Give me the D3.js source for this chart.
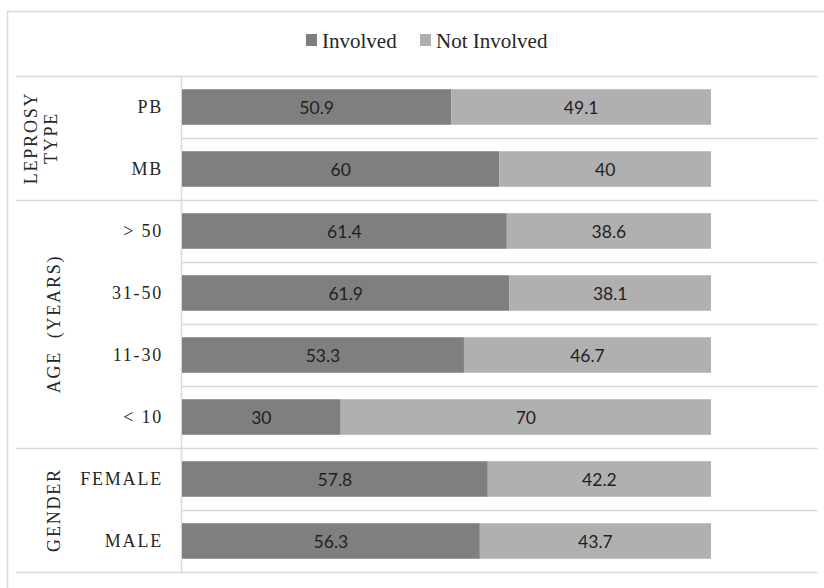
<!DOCTYPE html>
<html>
<head>
<meta charset="utf-8">
<script src="https://cdn.jsdelivr.net/npm/d3@7"></script>
<style>
  html, body { margin: 0; padding: 0; background: #fff; }
  svg { display: block; }
  text { white-space: pre; }
</style>
</head>
<body>
<svg id="chart" width="824" height="588"></svg>
<script>
// Share of patients involved / not involved, by subgroup (%)
const groups = ["LEPROSY TYPE", "AGE (YEARS)", "GENDER"];
const groupLines = [["LEPROSY", "TYPE"], ["AGE  (YEARS)"], ["GENDER"]];
const categories = ["PB", "MB", "> 50", "31-50", "11-30", "< 10", "FEMALE", "MALE"];
const categoryGroup = [0, 0, 1, 1, 1, 1, 2, 2];
const involved = [50.9, 60, 61.4, 61.9, 53.3, 30, 57.8, 56.3];
const notInvolved = [49.1, 40, 38.6, 38.1, 46.7, 70, 42.2, 43.7];
const seriesNames = ["Involved", "Not Involved"];
const seriesColors = ["#7f7f7f", "#b0b0b0"];

const svg = d3.select("#chart");
const gridColor = "#d9d9d9";

// outer frame
svg.append("path")
  .attr("d", "M7.5,600 V11.5 H830")
  .attr("fill", "none").attr("stroke", gridColor).attr("stroke-width", 1.5);

const plotLeft = 182, plotRight = 711, lineRight = 818;
const plotTop = 76, plotBottom = 572;

const x = d3.scaleLinear().domain([0, 100]).range([plotLeft, plotRight]);
const y = d3.scaleBand().domain(categories).range([plotTop, plotBottom]).paddingInner(0).paddingOuter(0);
const barH = 35.5;

// row separators: group boundaries extend under the group labels
const bounds = d3.range(categories.length + 1);
svg.append("g").selectAll("line").data(bounds).join("line")
  .attr("x1", i => (i === 0 || i === categories.length || categoryGroup[i] !== categoryGroup[i - 1]) ? 16 : 181)
  .attr("x2", lineRight)
  .attr("y1", i => plotTop + i * y.step() + 0.5)
  .attr("y2", i => plotTop + i * y.step() + 0.5)
  .attr("stroke", gridColor).attr("stroke-width", 1.5);

// category axis line
svg.append("line")
  .attr("x1", 181.5).attr("x2", 181.5).attr("y1", plotTop).attr("y2", plotBottom + 1)
  .attr("stroke", gridColor).attr("stroke-width", 1.5);

// stacked bars
const rows = categories.map((c, i) => ({ c, vals: [involved[i], notInvolved[i]] }));
const segs = [];
rows.forEach(r => {
  let acc = 0;
  r.vals.forEach((v, k) => { segs.push({ c: r.c, k, x0: acc, x1: acc + v, v }); acc += v; });
});

const yc = c => y(c) + y.bandwidth() / 2;

svg.append("g").selectAll("rect").data(segs).join("rect")
  .attr("x", d => x(d.x0))
  .attr("width", d => x(d.x1) - x(d.x0))
  .attr("y", d => yc(d.c) - barH / 2)
  .attr("height", barH)
  .attr("fill", d => seriesColors[d.k]);

svg.append("g").selectAll("text").data(segs).join("text")
  .attr("x", d => (x(d.x0) + x(d.x1)) / 2)
  .attr("y", d => yc(d.c) + 6.5)
  .attr("text-anchor", "middle")
  .attr("font-family", "Lato, 'Open Sans', sans-serif")
  .attr("font-size", 17.5)
  .attr("fill", "#1f1f1f")
  .text(d => d.v);

// category labels
svg.append("g").selectAll("text").data(categories).join("text")
  .attr("x", 163)
  .attr("y", c => yc(c) + 6)
  .attr("text-anchor", "end")
  .attr("font-family", "'Liberation Serif', 'Times New Roman', serif")
  .attr("font-size", 18)
  .attr("letter-spacing", 1.8)
  .attr("fill", "#262626")
  .text(c => c);

// rotated group labels
groups.forEach((g, gi) => {
  const idx = categories.filter((c, i) => categoryGroup[i] === gi);
  const y0 = y(idx[0]), y1 = y(idx[idx.length - 1]) + y.step();
  const cy = (y0 + y1) / 2;
  const lines = groupLines[gi];
  const baseX = lines.length === 2 ? [37, 57] : [60];
  lines.forEach((ln, li) => {
    svg.append("text")
      .attr("transform", `translate(${baseX[li]},${cy}) rotate(-90)`)
      .attr("text-anchor", "middle")
      .attr("font-family", "'Liberation Serif', 'Times New Roman', serif")
      .attr("font-size", 18)
      .attr("letter-spacing", 1.8)
      .attr("fill", "#262626")
      .text(ln);
  });
});

// legend
const legendX = [306, 420];
const lg = svg.append("g");
seriesNames.forEach((n, k) => {
  lg.append("rect")
    .attr("x", legendX[k]).attr("y", 34).attr("width", 11).attr("height", 12)
    .attr("fill", seriesColors[k]);
  lg.append("text")
    .attr("x", legendX[k] + 16).attr("y", 48)
    .attr("font-family", "'Liberation Serif', 'Times New Roman', serif")
    .attr("font-size", 21)
    .attr("fill", "#262626")
    .text(n);
});
</script>
</body>
</html>
